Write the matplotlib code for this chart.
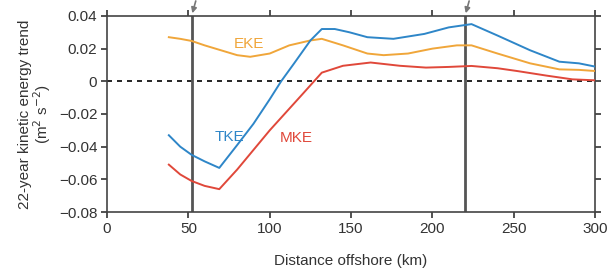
import matplotlib.pyplot as plt

plt.rcParams['font.family'] = ['Liberation Sans', 'DejaVu Sans']

km_tke = [38, 45, 52, 60, 69, 80, 90, 100, 107, 115, 125, 132, 140, 149, 160, 176, 195, 210, 224, 240, 260, 278, 290, 300]
tke = [-0.033, -0.040, -0.045, -0.049, -0.053, -0.039, -0.026, -0.011, 0.000, 0.011, 0.025, 0.032, 0.032, 0.030, 0.027, 0.026, 0.029, 0.033, 0.035, 0.028, 0.019, 0.012, 0.011, 0.009]

km_eke = [38, 45, 52, 60, 70, 80, 88, 100, 112, 125, 132, 145, 160, 170, 185, 200, 215, 224, 240, 260, 278, 290, 300]
eke = [0.027, 0.026, 0.0247, 0.022, 0.019, 0.016, 0.015, 0.017, 0.022, 0.025, 0.026, 0.022, 0.017, 0.016, 0.017, 0.020, 0.022, 0.022, 0.017, 0.011, 0.0073, 0.007, 0.0063]

km_mke = [38, 45, 52, 60, 69, 80, 90, 100, 110, 120, 132, 145, 162, 180, 196, 210, 224, 240, 252, 270, 286, 300]
mke = [-0.051, -0.057, -0.061, -0.064, -0.066, -0.054, -0.042, -0.030, -0.019, -0.008, 0.0053, 0.0095, 0.0115, 0.0095, 0.0084, 0.0088, 0.0094, 0.0080, 0.0063, 0.0035, 0.0012, 0.0006]

marks = [52, 220]

fig = plt.figure(figsize=(6.16, 2.75), dpi=100)
ax = fig.add_axes([0.1737, 0.229, 0.7925, 0.713])

ax.axhline(0, color='black', lw=1.2, ls=(0, (3, 3)), zorder=1)
for m in marks:
    ax.axvline(m, color='#555555', lw=2, zorder=2)
    ax.annotate('', xy=(m, 1.0), xycoords=('data', 'axes fraction'),
                xytext=(m + 3, 1.09), textcoords=('data', 'axes fraction'),
                arrowprops=dict(arrowstyle='-|>', color='#777777', lw=1.2, mutation_scale=8),
                annotation_clip=False)

ax.plot(km_eke, eke, color='#f0a63a', lw=1.4, zorder=3)
ax.plot(km_mke, mke, color='#e0483a', lw=1.4, zorder=3)
ax.plot(km_tke, tke, color='#2e86c8', lw=1.4, zorder=3)

ax.text(87, 0.023, 'EKE', color='#f0a63a', fontsize=11, ha='center', va='center')
ax.text(75, -0.034, 'TKE', color='#2e86c8', fontsize=11, ha='center', va='center')
ax.text(116, -0.035, 'MKE', color='#e0483a', fontsize=11, ha='center', va='center')

ax.set_xlim(0, 300)
ax.set_ylim(-0.08, 0.04)
ax.set_xticks([0, 50, 100, 150, 200, 250, 300])
ax.set_yticks([-0.08, -0.06, -0.04, -0.02, 0, 0.02, 0.04])
ax.set_yticklabels(['\u22120.08', '\u22120.06', '\u22120.04', '\u22120.02', '0', '0.02', '0.04'])
ax.tick_params(labelsize=11, colors='#333333', length=4, width=1.2, top=True, right=True, pad=3)
for s in ax.spines.values():
    s.set_color('#444444')
    s.set_linewidth(1.2)

ax.set_xlabel('Distance offshore (km)', fontsize=11, color='#333333', labelpad=13)
ax.set_ylabel('22-year kinetic energy trend\n(m$^2$ s$^{-2}$)', fontsize=11, color='#333333', linespacing=1.0, labelpad=4)

fig.savefig('out.png', dpi=100)
